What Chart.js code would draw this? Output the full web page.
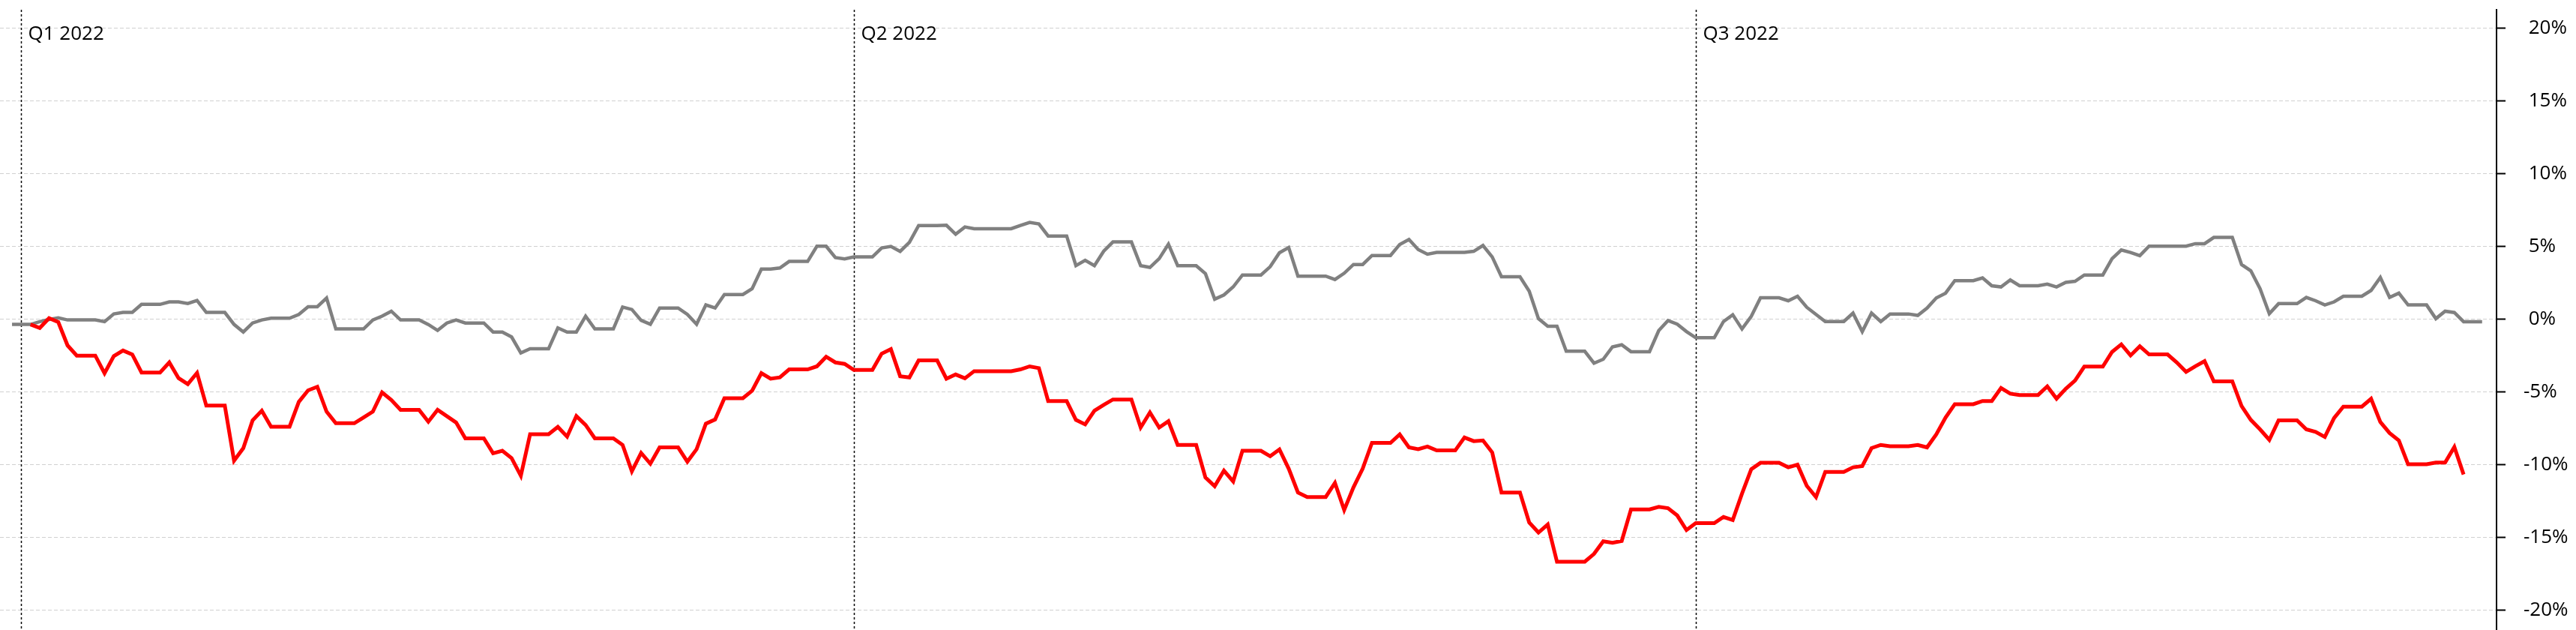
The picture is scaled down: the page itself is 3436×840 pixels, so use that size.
<!DOCTYPE html>
<html>
<head>
<meta charset="utf-8">
<script src="https://cdn.jsdelivr.net/npm/chart.js@4.4.0/dist/chart.umd.min.js"></script>
<style>
  html, body { margin: 0; padding: 0; background: #ffffff; }
  #wrap { width: 3436px; height: 840px; position: relative; }
  canvas { display: block; }
</style>
</head>
<body>
<div id="wrap"><canvas id="c" width="3436" height="840"></canvas></div>
<script>
// ---------- data ----------
const firstDay = '2021-12-31';          // first category (day index 0)
const quarterLabels = ['Q1 2022', 'Q2 2022', 'Q3 2022'];
const quarterStarts = ['2022-01-01', '2022-04-01', '2022-07-01'];
const yTickValues = [-20, -15, -10, -5, 0, 5, 10, 15, 20];

// grey series: daily % change, from 2021-12-31
const greySeries = [
  -0.38,-0.38,-0.38,-0.19,-0.04,0.07,-0.07,-0.07,-0.07,-0.07,
  -0.19,0.34,0.45,0.45,1.00,1.00,1.00,1.17,1.17,1.06,
  1.27,0.45,0.45,0.45,-0.38,-0.90,-0.28,-0.07,0.05,0.05,
  0.05,0.31,0.84,0.84,1.44,-0.69,-0.69,-0.69,-0.69,-0.07,
  0.19,0.53,-0.07,-0.07,-0.07,-0.38,-0.79,-0.28,-0.07,-0.28,
  -0.28,-0.28,-0.90,-0.90,-1.24,-2.34,-2.05,-2.05,-2.05,-0.62,
  -0.90,-0.90,0.19,-0.69,-0.69,-0.69,0.82,0.65,-0.10,-0.37,
  0.75,0.75,0.75,0.31,-0.36,0.96,0.75,1.68,1.68,1.68,
  2.08,3.43,3.43,3.50,3.95,3.95,3.95,5.00,5.00,4.22,
  4.12,4.26,4.26,4.26,4.88,4.98,4.64,5.26,6.42,6.42,
  6.42,6.44,5.82,6.32,6.20,6.20,6.20,6.20,6.20,6.42,
  6.63,6.53,5.70,5.70,5.70,3.66,4.03,3.66,4.65,5.29,
  5.29,5.29,3.66,3.54,4.14,5.14,3.66,3.66,3.66,3.11,
  1.36,1.65,2.20,3.02,3.02,3.02,3.59,4.55,4.91,2.94,
  2.94,2.94,2.94,2.71,3.14,3.74,3.74,4.36,4.36,4.36,
  5.12,5.46,4.77,4.45,4.57,4.57,4.57,4.57,4.65,5.05,
  4.26,2.90,2.90,2.90,1.91,0.02,-0.50,-0.50,-2.22,-2.22,
  -2.22,-3.04,-2.77,-1.92,-1.78,-2.25,-2.25,-2.25,-0.80,-0.11,
  -0.36,-0.87,-1.29,-1.29,-1.29,-0.18,0.29,-0.69,0.18,1.45,
  1.45,1.45,1.25,1.56,0.80,0.31,-0.18,-0.18,-0.18,0.40,
  -0.87,0.40,-0.18,0.34,0.34,0.34,0.24,0.74,1.44,1.77,
  2.63,2.63,2.63,2.82,2.28,2.20,2.68,2.28,2.28,2.28,
  2.39,2.20,2.51,2.59,3.02,3.02,3.02,4.14,4.74,4.57,
  4.35,5.00,5.00,5.00,5.00,5.00,5.17,5.17,5.60,5.60,
  5.60,3.74,3.31,2.08,0.36,1.05,1.05,1.05,1.48,1.25,
  0.96,1.17,1.56,1.56,1.56,1.96,2.85,1.48,1.77,0.96,
  0.96,0.96,0.02,0.53,0.44,-0.19,-0.19,-0.19
];

// red series starts at day index 2 (2022-01-02)
const redStartIndex = 2;
const redSeries = [
  -0.38,-0.62,0.05,-0.22,-1.82,-2.52,-2.52,-2.52,
  -3.73,-2.56,-2.17,-2.44,-3.68,-3.68,-3.68,-2.99,-4.07,-4.48,
  -3.71,-5.96,-5.96,-5.96,-9.74,-8.88,-6.98,-6.31,-7.41,-7.41,
  -7.41,-5.70,-4.91,-4.66,-6.37,-7.17,-7.17,-7.17,-6.77,-6.37,
  -5.05,-5.57,-6.25,-6.25,-6.25,-7.06,-6.25,-6.68,-7.12,-8.21,
  -8.21,-8.21,-9.23,-9.06,-9.57,-10.78,-7.92,-7.92,-7.92,-7.42,
  -8.09,-6.68,-7.29,-8.21,-8.21,-8.21,-8.66,-10.47,-9.21,-9.95,
  -8.83,-8.83,-8.83,-9.81,-8.95,-7.20,-6.91,-5.45,-5.45,-5.45,
  -4.93,-3.73,-4.11,-4.02,-3.47,-3.47,-3.47,-3.26,-2.60,-2.99,
  -3.09,-3.51,-3.51,-3.51,-2.39,-2.08,-3.94,-4.02,-2.85,-2.85,
  -2.85,-4.11,-3.82,-4.08,-3.59,-3.59,-3.59,-3.59,-3.59,-3.47,
  -3.26,-3.38,-5.64,-5.64,-5.64,-6.94,-7.25,-6.31,-5.91,-5.54,
  -5.54,-5.54,-7.46,-6.43,-7.46,-7.03,-8.66,-8.66,-8.66,-10.90,
  -11.50,-10.43,-11.17,-9.06,-9.06,-9.06,-9.44,-8.97,-10.29,-11.93,
  -12.24,-12.24,-12.24,-11.27,-13.13,-11.58,-10.29,-8.52,-8.52,-8.52,
  -7.94,-8.83,-8.95,-8.77,-9.04,-9.04,-9.04,-8.15,-8.40,-8.35,
  -9.18,-11.93,-11.93,-11.93,-13.99,-14.68,-14.13,-16.69,-16.69,-16.69,
  -16.69,-16.15,-15.28,-15.38,-15.26,-13.09,-13.09,-13.09,-12.92,-13.01,
  -13.51,-14.51,-14.04,-14.04,-14.04,-13.61,-13.82,-12.01,-10.33,-9.89,
  -9.89,-9.89,-10.20,-10.02,-11.47,-12.25,-10.51,-10.51,-10.51,-10.20,
  -10.11,-8.88,-8.66,-8.75,-8.75,-8.75,-8.66,-8.83,-7.94,-6.78,
  -5.86,-5.86,-5.86,-5.64,-5.64,-4.75,-5.14,-5.23,-5.23,-5.23,
  -4.64,-5.48,-4.80,-4.23,-3.28,-3.28,-3.28,-2.27,-1.75,-2.51,
  -1.88,-2.44,-2.44,-2.44,-2.99,-3.64,-3.25,-2.90,-4.29,-4.29,
  -4.29,-5.99,-6.94,-7.59,-8.31,-6.97,-6.97,-6.97,-7.59,-7.76,
  -8.11,-6.81,-6.03,-6.03,-6.03,-5.49,-7.08,-7.84,-8.35,-9.99,
  -9.99,-9.99,-9.87,-9.87,-8.80,-10.69
];

// ---------- categories (calendar days) ----------
const dayMs = 86400000;
const t0 = Date.parse(firstDay + 'T00:00:00Z');
const dates = greySeries.map((_, i) => new Date(t0 + i * dayMs).toISOString().slice(0, 10));

const greyPoints = greySeries.map((v, i) => ({ x: i, y: v }));
const redPoints = redSeries.map((v, i) => ({ x: i + redStartIndex, y: v }));

// ---------- quarter marker plugin ----------
const quarterPlugin = {
  id: 'quarterMarkers',
  beforeDatasetsDraw(chart) {
    const { ctx, chartArea, scales } = chart;
    const xs = scales.x;
    ctx.save();
    quarterStarts.forEach((d, k) => {
      const idx = dates.indexOf(d);
      if (idx < 0) return;
      const px = Math.round(xs.getPixelForValue(idx)) + 0.5;
      ctx.strokeStyle = '#000000';
      ctx.lineWidth = 1.5;
      ctx.setLineDash([3, 3]);
      ctx.beginPath();
      ctx.moveTo(px, chartArea.top);
      ctx.lineTo(px, chartArea.bottom);
      ctx.stroke();
      ctx.setLineDash([]);
      ctx.fillStyle = '#000000';
      ctx.font = '26px "Open Sans"';
      ctx.textAlign = 'left';
      ctx.textBaseline = 'alphabetic';
      ctx.fillText(quarterLabels[k], px + 9, chartArea.top + 40);
    });
    ctx.restore();
  }
};

function draw() {
  new Chart(document.getElementById('c'), {
    type: 'line',
    data: {
      labels: dates,
      datasets: [
        {
          label: 'Red',
          data: redPoints,
          borderColor: '#ff0000',
          borderWidth: 5,
          pointRadius: 0,
          tension: 0,
          fill: false
        },
        {
          label: 'Grey',
          data: greyPoints,
          borderColor: '#808080',
          borderWidth: 4.5,
          pointRadius: 0,
          tension: 0,
          fill: false
        }
      ]
    },
    options: {
      responsive: false,
      animation: false,
      devicePixelRatio: 1,
      layout: { padding: { top: 13, left: 0, right: 0, bottom: 0 } },
      plugins: { legend: { display: false }, tooltip: { enabled: false } },
      scales: {
        x: {
          type: 'linear',
          display: false,
          min: -1.3,
          max: 268.56
        },
        y: {
          position: 'right',
          min: -21.38,
          max: 21.25,
          afterBuildTicks: (scale) => { scale.ticks = yTickValues.map(v => ({ value: v })); },
          afterFit: (scale) => {
            scale.width = 106;
            scale.paddingTop = 0;
            scale.paddingBottom = 0;
          },
          grid: {
            color: '#d0d0d0',
            lineWidth: 1,
            drawOnChartArea: true,
            drawTicks: true,
            tickLength: 12,
            tickColor: '#000000',
            tickWidth: 2,
            tickBorderDash: []
          },
          border: { display: true, color: '#000000', width: 2, dash: [5, 3] },
          ticks: {
            color: '#000000',
            padding: 24,
            font: { family: '"Open Sans"', size: 26 },
            callback: (v) => (v < 0 ? '' : ' ') + v + '%'
          }
        }
      }
    },
    plugins: [quarterPlugin]
  });
}

if (document.fonts && document.fonts.load) {
  document.fonts.load('26px "Open Sans"').then(draw, draw);
} else {
  draw();
}
</script>
</body>
</html>
